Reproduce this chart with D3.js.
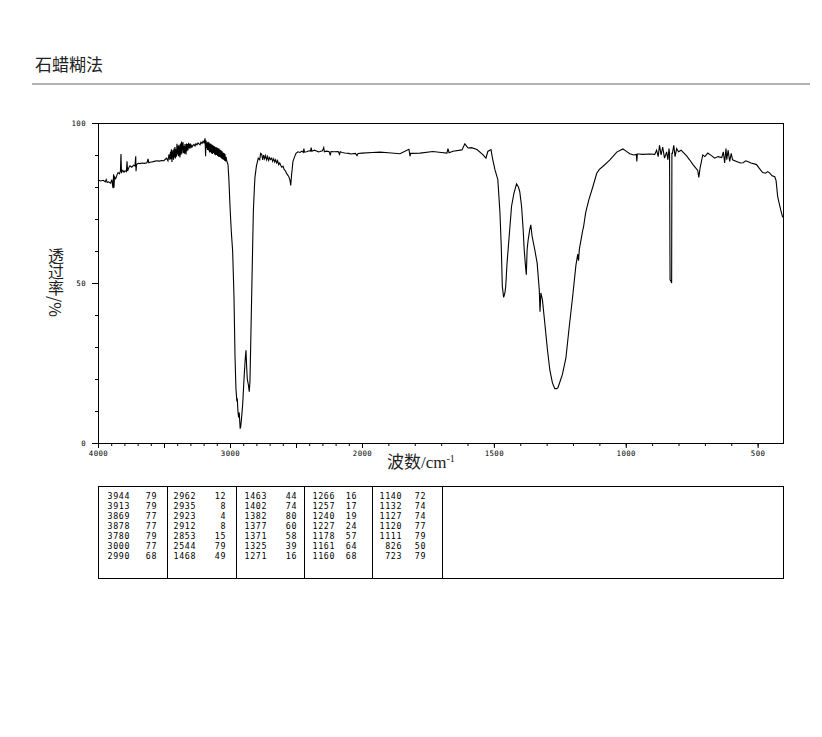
<!DOCTYPE html>
<html><head><meta charset="utf-8">
<script src="https://cdn.jsdelivr.net/npm/d3@7/dist/d3.min.js"></script>
<style>
html,body{margin:0;padding:0;background:#fff;}
svg{display:block;}
</style></head>
<body>
<svg id="c" width="822" height="737"></svg>
<script>
const title = "石蜡糊法";
const xAxisTitle = "波数/cm";
const xAxisTitleSup = "-1";
const yAxisTitle = "透过率/%";
const xTickLabels = [4000, 3000, 2000, 1500, 1000, 500];
const xMajorTicks = [4000, 3500, 3000, 2500, 2000, 1500, 1000, 500];
const yTickLabels = [0, 50, 100];

const wavenumber = [
4000,3980,3960,3945,3938,3930,3920,3905,3895,3890,3886,3882,3879,3875,3866,3856,3848,3838,3830,3826,3822,3812,3803,3795,3785,3780,3776,3765,3758,3745,3730,3720,3714,3712,3708,3695,3682,3665,3650,3629,3621,3615,3600,3591,3575,3553,3535,3515,3500,3492,3480,3470,3462,
3455,3451,3447,3444,3440,3436,3432,3428,3424,3421,3417,3413,3409,3405,3402,3398,3394,3390,3386,3382,3379,3375,3371,3367,3364,3360,3356,3352,3349,3345,3341,3337,3333,3330,3326,3322,3318,3314,3311,3307,3303,3299,3295,3291,3288,
3280,3273,3265,3258,3250,3242,3235,3227,3220,3212,3204,3197,3189,3185,
3181,3177,3174,3170,3166,3162,3159,3155,3152,3148,3144,3140,3136,3132,3129,3125,3121,3117,3114,3110,3106,3102,3098,3094,3091,3087,3083,3079,3076,3072,3068,3064,3060,3057,3053,3049,3045,3041,3038,3034,3030,3025,
3015,3008,3000,2990,2980,2970,2962,2955,2948,2945,2940,2935,2930,2923,2919,2912,2904,2894,2885,2879,2874,2869,2860,2854,2849,2843,2833,2823,2815,2811,2800,2786,
2775,2768,2760,2752,2745,2737,2730,2722,2715,2707,2700,2692,2684,2677,2669,2661,2654,2646,2639,2631,2623,2616,2608,2598,2590,2580,2568,2555,2545,2540,2533,2523,2510,2500,2485,2470,2455,2445,2440,2436,2420,2400,2390,2385,2380,2360,2340,2330,
2318,2300,2290,2285,2270,2250,2240,2235,2210,2180,2170,2165,2150,2130,2100,2085,2050,2038,2030,2000,1960,1932,1900,1856,1822,1818,1816,1780,1731,1700,1678,1674,1670,1655,1621,1610,1598,1585,1564,1542,1530,1523,1511,1504,1496,1485,1477,1472,1468,1463,1458,1455,1450,1442,1433,1424,1414,1407,1402,1395,1389,1385,1380,1377,1374,1370,1364,1360,1355,1345,1336,1328,1325,1322,1316,1307,1297,1288,1278,1269,
1262,1257,1250,1240,1227,1216,1201,1189,1182,1179,1176,1163,1160,1152,1140,1125,1110,1100,1087,1061,1034,1011,1000,985,970,960,958,956,950,936,909,890,883,877,872,866,860,853,845,840,836,834,832,828,826,825,823,818,813,807,800,790,784,770,758,745,735,727,723,718,708,700,689,675,663,650,636,630,625,620,617,612,606,600,595,580,565,555,545,538,525,504,495,481,470,462,455,445,435,430,424,413,405
];
const transmittance = [
82.2,81.9,82.1,81.6,82.3,81.4,81.6,81.2,82.3,80.6,79.6,84,79.8,83.2,82.6,83.8,84.5,84.1,85,90.3,84.6,85.2,84.6,85.1,84.8,88,85,86.2,86.6,86.2,86.8,86.6,89.6,84.9,87,87.4,87.3,87.5,87.4,87.6,88.8,87.6,87.8,87.8,88,88.2,88.1,88.3,88.2,88.6,89,88.2,90.2,
88.5,91,88.8,91.8,87.8,90.5,91.5,88.5,92,89.2,92.5,88.9,91.8,89.5,93.5,90.2,92.9,89.6,93.2,90.4,89.2,93.6,90.1,94.2,90.5,93.1,94,90.6,92.8,90.4,93.4,91,90.2,93.6,91.2,93.4,91.5,93.8,92.1,93.5,92,93.6,92.4,93.2,92.5,
93,93.3,92.8,93.5,93.2,93.8,93.5,93.2,94,93.6,94.3,93.8,95.2,89.6,
94.5,92.2,93.9,91.6,94.1,91.4,93.9,90.8,93.6,90.9,93.5,90.5,93.2,90.3,93,90.6,92.8,90.2,92.6,89.9,92.4,90,92.3,89.7,92.1,89.5,92,89.4,91.6,89.2,91.5,88.9,91.2,88.7,90.8,88.5,90.6,88.2,90.3,88,89.4,88.2,
87,82,74,66,60,46,27,17,13,14,10,8,9.5,4.5,5,8,12,20,26,29,24,20,18,16,19,31,52,72.5,80,83,86.5,89,
88.5,90.5,90.2,88.5,90,88.8,89.8,88.5,89.5,88.3,89.2,88.6,89,88,88.8,87.8,88.5,87.5,88.2,87,87.5,86.8,86.2,86.5,85.5,85,84,83.3,82,80.5,84,88,89.5,90.5,91,90.8,91.2,90.8,92,90.9,91,91.3,91.2,92.3,91.2,91.5,91.2,91,
91.1,91.3,92.3,91,91.2,91.1,89.9,91.1,91,91.1,90.2,91,90.8,90.6,90.5,90.3,90.5,89.8,90.5,90.6,90.8,90.9,90.7,90.4,91.8,89.6,90.5,90.6,91.1,90.8,90.6,92,90.7,91.2,91.6,93.5,92.2,92.3,91.7,90.1,89,91.1,91.7,88.5,85.4,82.3,72,61.4,49,45.5,47,49,56.3,64.6,74,78,81,80,78.6,74,66.7,60.4,55.2,52.6,60.4,63.5,66.7,68.2,64.6,60.4,56.3,48,41,46.9,44.8,37.5,29.2,22.9,18.8,17,
17,17.3,19,21.5,26.5,35,46,55.5,59,57,60.5,66.5,67.5,72,76,80,84.3,85.5,86.4,88.4,90.9,91.9,91.3,90.4,90,90.2,88,90.3,90.3,90.2,90.3,90.2,91.5,89.5,93,90,92.5,89,91,88.5,92,90.5,51,50.5,50,90.5,90.5,93,89.5,92,91,91.5,91,89.8,88.5,87,86,85.2,83,86,90,89.5,90.6,89.8,89,89.5,89.2,91,87.5,92,88.5,91.5,88,90.5,88.5,88,87.5,87.6,88.2,88,87.5,87,86,84.5,84.3,84.8,84.4,83.5,83.2,82,77,73,70.5
];

const peakWn = [3944,3913,3869,3878,3780,3000,2990, 2962,2935,2923,2912,2853,2544,1468, 1463,1402,1382,1377,1371,1325,1271, 1266,1257,1240,1227,1178,1161,1160, 1140,1132,1127,1120,1111,826,723];
const peakT  = [79,79,77,77,79,77,68, 12,8,4,8,15,79,49, 44,74,80,60,58,39,16, 16,17,19,24,57,64,68, 72,74,74,77,79,50,79];

const svg = d3.select("#c");
const L = 98, R = 783, T = 123, B = 443;

// Title and rule
svg.append("text").attr("x", 35).attr("y", 71)
  .attr("font-family", "'Noto Sans CJK SC'").attr("font-size", 17).attr("fill", "#222")
  .text(title);
svg.append("line").attr("x1", 32).attr("x2", 810).attr("y1", 84).attr("y2", 84)
  .attr("stroke", "#999").attr("stroke-width", 1.5);

const x = d3.scaleLinear().domain([4000, 2000, 400]).range([L, 362, 784]);
const y = d3.scaleLinear().domain([0, 100]).range([B, T]);

const monoFont = "'DejaVu Sans Mono', monospace";

// x axis minor ticks
svg.append("g").attr("transform", `translate(0,${B})`)
  .call(d3.axisBottom(x).tickValues(d3.range(500, 4001, 100)).tickSize(3).tickFormat(""))
  .call(g => g.select(".domain").remove());
// x axis major ticks with labels
svg.append("g").attr("transform", `translate(0,${B})`)
  .call(d3.axisBottom(x).tickValues(xMajorTicks).tickSize(5).tickPadding(3)
    .tickFormat(d => xTickLabels.includes(d) ? d : ""))
  .call(g => g.select(".domain").remove())
  .call(g => g.selectAll("text").attr("font-family", monoFont).attr("font-size", 7.4)
    .attr("letter-spacing", 0.4).attr("fill", "#000"));

// y axis minor ticks
svg.append("g").attr("transform", `translate(${L},0)`)
  .call(d3.axisLeft(y).tickValues(d3.range(0, 101, 10)).tickSize(3).tickFormat(""))
  .call(g => g.select(".domain").remove());
// y axis major
svg.append("g").attr("transform", `translate(${L},0)`)
  .call(d3.axisLeft(y).tickValues(yTickLabels).tickSize(6).tickPadding(6))
  .call(g => g.select(".domain").remove())
  .call(g => g.selectAll("text").attr("font-family", monoFont).attr("font-size", 7.4)
    .attr("letter-spacing", 0.4).attr("fill", "#000"));

// frame
svg.append("rect").attr("x", L + 0.5).attr("y", T + 0.5).attr("width", R - L).attr("height", B - T)
  .attr("fill", "none").attr("stroke", "#000").attr("stroke-width", 1);

// spectrum
const pts = wavenumber.map((w, i) => [w, transmittance[i]]);
svg.append("path").datum(pts)
  .attr("d", d3.line().x(d => x(d[0])).y(d => y(d[1])))
  .attr("fill", "none").attr("stroke", "#000").attr("stroke-width", 1.1)
  .attr("stroke-linejoin", "miter");

// x axis title
const xt = svg.append("text").attr("x", 387).attr("y", 468)
  .attr("font-family", "'Liberation Serif', 'Noto Sans CJK SC'").attr("font-size", 17).attr("fill", "#222");
xt.append("tspan").text(xAxisTitle);
xt.append("tspan").attr("dy", -6).attr("font-size", 10).text(xAxisTitleSup);

// y axis title: vertical writing, one text element
svg.append("text")
  .attr("x", 56).attr("y", 248)
  .style("writing-mode", "vertical-rl")
  .style("text-orientation", "mixed")
  .attr("fill", "#222").attr("font-size", 16)
  .attr("font-family", "'Noto Sans CJK SC'")
  .text(yAxisTitle);

// peak table
const tT = 486, tB = 578;
const colX = [98, 167, 236, 304, 372, 442];
const tbl = svg.append("g");
tbl.append("rect").attr("x", L + 0.5).attr("y", tT + 0.5).attr("width", R - L).attr("height", tB - tT)
  .attr("fill", "none").attr("stroke", "#000");
colX.slice(1).forEach(cx => tbl.append("line").attr("x1", cx + 0.5).attr("x2", cx + 0.5)
  .attr("y1", tT).attr("y2", tB).attr("stroke", "#000"));
const wnRight = [130, 196, 267, 335, 402];
const tRight = [157, 226, 297, 357, 426];
peakWn.forEach((w, i) => {
  const c = Math.floor(i / 7), r = i % 7;
  const yy = 499 + r * 10;
  tbl.append("text").attr("x", wnRight[c]).attr("y", yy).attr("text-anchor", "end")
    .attr("font-family", monoFont).attr("font-size", 8.3).attr("letter-spacing", 0.6).text(w);
  tbl.append("text").attr("x", tRight[c]).attr("y", yy).attr("text-anchor", "end")
    .attr("font-family", monoFont).attr("font-size", 8.3).attr("letter-spacing", 0.6).text(peakT[i]);
});
</script>
</body></html>
